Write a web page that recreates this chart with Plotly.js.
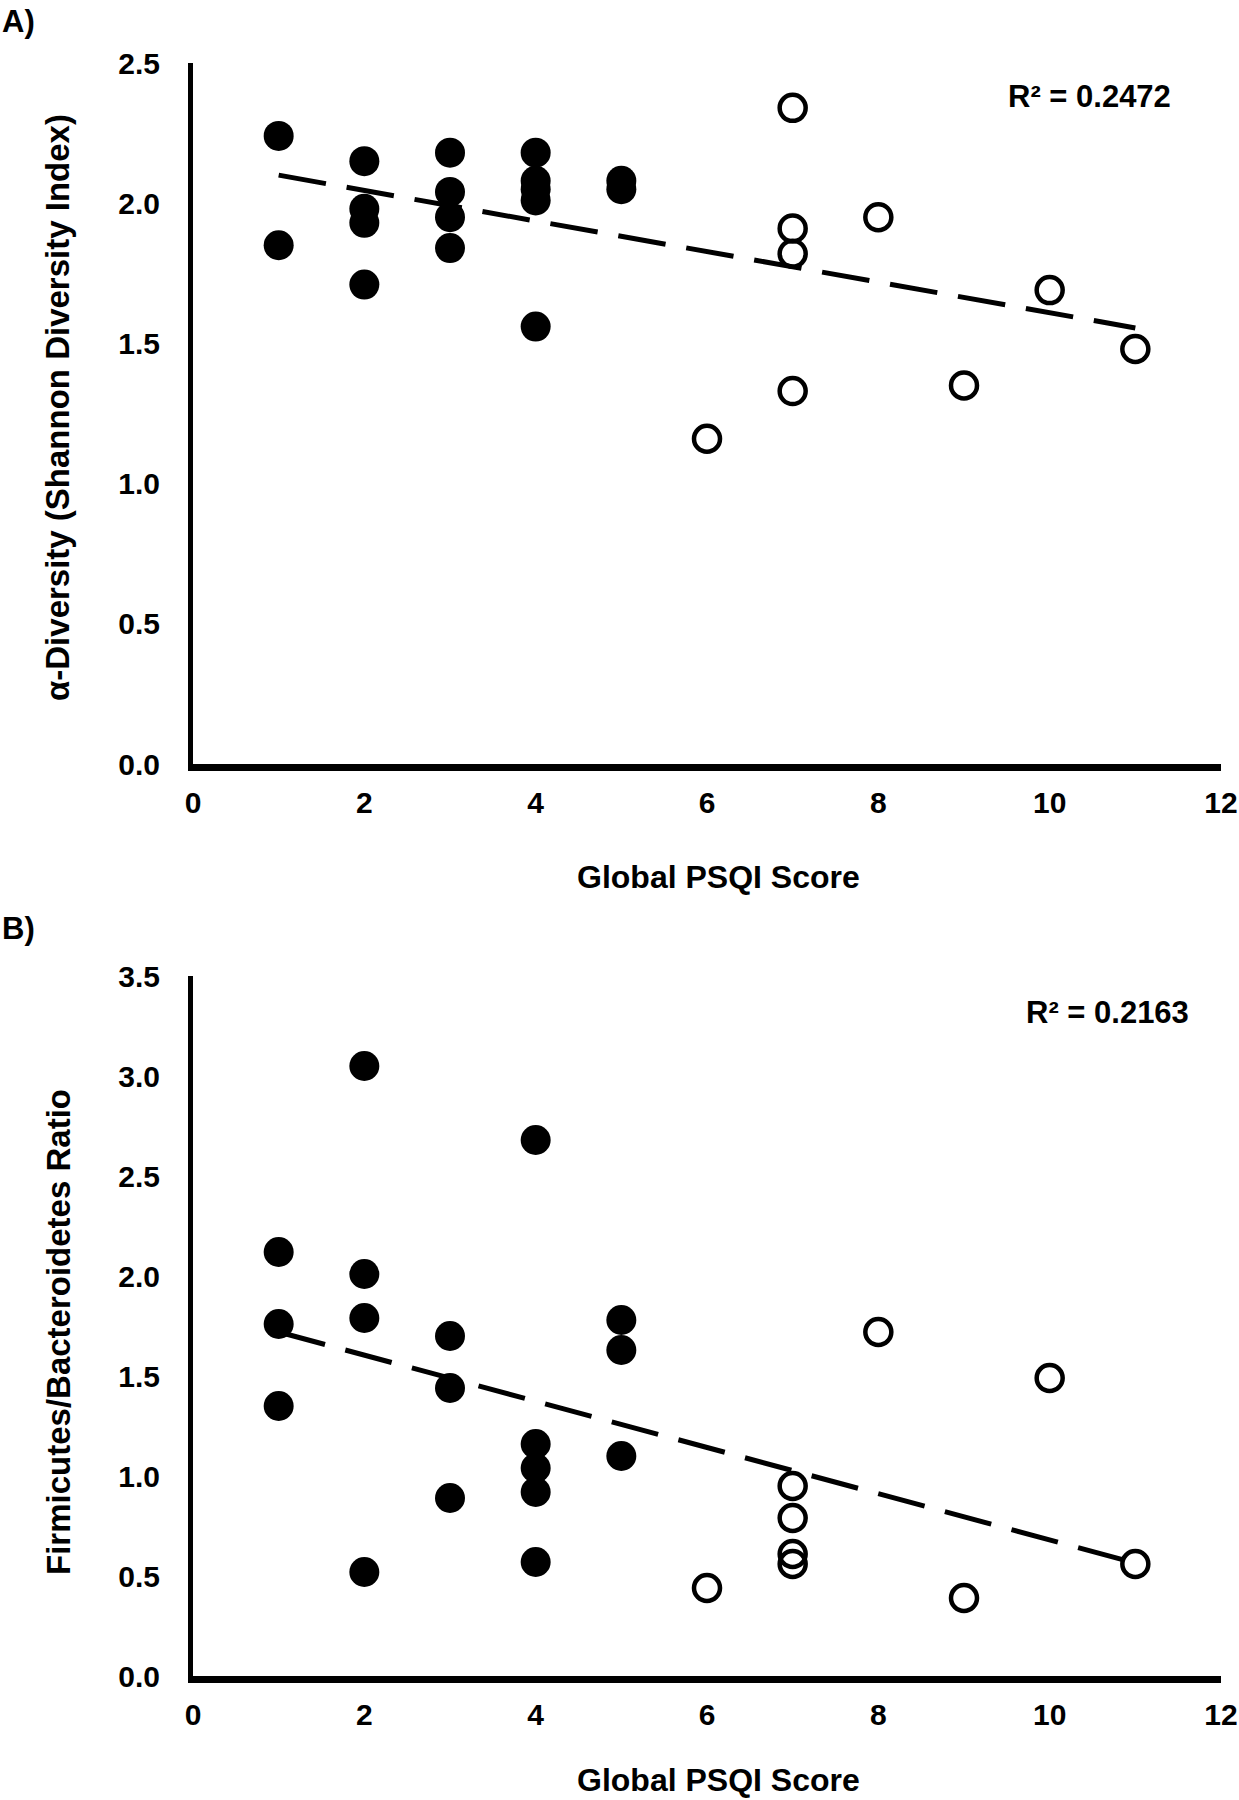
<!DOCTYPE html>
<html>
<head>
<meta charset="utf-8">
<script src="https://cdn.plot.ly/plotly-3.0.1.min.js"></script>
<style>
  html, body { margin: 0; padding: 0; background: #fff; }
  #chart { width: 1239px; height: 1800px; }
</style>
</head>
<body>
<div id="chart"></div>
<script>
// Panel A: Shannon diversity vs global PSQI score
const psqiGoodA = [1, 1, 2, 2, 2, 2, 3, 3, 3, 3, 4, 4, 4, 4, 4, 5, 5];
const shannonGood = [2.24, 1.85, 2.15, 1.98, 1.93, 1.71, 2.18, 2.04, 1.95, 1.84, 2.18, 2.08, 2.05, 2.01, 1.56, 2.08, 2.05];
const psqiPoorA = [6, 7, 7, 7, 7, 8, 9, 10, 11];
const shannonPoor = [1.16, 2.34, 1.91, 1.82, 1.33, 1.95, 1.35, 1.69, 1.48];
const trendAx = [1, 11];
const trendAy = [2.10, 1.555];

// Panel B: Firmicutes/Bacteroidetes ratio vs global PSQI score
const psqiGoodB = [1, 1, 1, 2, 2, 2, 2, 3, 3, 3, 4, 4, 4, 4, 4, 5, 5, 5];
const fbGood = [2.12, 1.76, 1.35, 3.05, 2.01, 1.79, 0.52, 1.70, 1.44, 0.89, 2.68, 1.16, 1.04, 0.92, 0.57, 1.78, 1.63, 1.10];
const psqiPoorB = [6, 7, 7, 7, 7, 8, 9, 10, 11];
const fbPoor = [0.44, 0.95, 0.79, 0.61, 0.56, 1.72, 0.39, 1.49, 0.56];
const trendBx = [1, 11];
const trendBy = [1.72, 0.565];

const xTicks = [0, 2, 4, 6, 8, 10, 12];
const yTicksA = [0, 0.5, 1.0, 1.5, 2.0, 2.5];
const yTicksB = [0, 0.5, 1.0, 1.5, 2.0, 2.5, 3.0, 3.5];

const FONT = "'Liberation Sans', Arial, Helvetica, sans-serif";
const tickFont = {family: FONT, size: 30, color: "#000", weight: "bold"};

function filledTrace(x, y, xa, ya) {
    return {
        x, y, xaxis: xa, yaxis: ya,
        type: "scatter", mode: "markers",
        marker: {symbol: "circle", size: 30, color: "#000"},
        hoverinfo: "skip"
    };
}

function openTrace(x, y, xa, ya) {
    return {
        x, y, xaxis: xa, yaxis: ya,
        type: "scatter", mode: "markers",
        marker: {symbol: "circle-open", size: 26, color: "#000", line: {width: 4.5, color: "#000"}},
        hoverinfo: "skip"
    };
}

function trendTrace(x, y, xa, ya) {
    return {
        x, y, xaxis: xa, yaxis: ya,
        type: "scatter", mode: "lines",
        line: {color: "#000", width: 5, dash: "48px,21px"},
        hoverinfo: "skip"
    };
}

function xAxis(anchor) {
    return {
        anchor,
        domain: [193 / 1239, 1221 / 1239],
        range: [0, 12],
        tickmode: "array",
        tickvals: xTicks,
        ticktext: xTicks.map(String),
        tickfont: tickFont,
        ticks: "",
        ticklabelstandoff: 6,
        showline: true, linewidth: 7, linecolor: "#000",
        showgrid: false, zeroline: false, fixedrange: true
    };
}

function yAxis(anchor, top, bottom, maxVal, ticks) {
    return {
        anchor,
        domain: [1 - bottom / 1800, 1 - top / 1800],
        range: [0, maxVal],
        tickmode: "array",
        tickvals: ticks,
        ticktext: ticks.map(v => v.toFixed(1)),
        tickfont: tickFont,
        ticks: "",
        ticklabelstandoff: 22,
        showline: true, linewidth: 5, linecolor: "#000",
        showgrid: false, zeroline: false, fixedrange: true
    };
}

const data = [
    trendTrace(trendAx, trendAy, "x", "y"),
    filledTrace(psqiGoodA, shannonGood, "x", "y"),
    openTrace(psqiPoorA, shannonPoor, "x", "y"),
    trendTrace(trendBx, trendBy, "x2", "y2"),
    filledTrace(psqiGoodB, fbGood, "x2", "y2"),
    openTrace(psqiPoorB, fbPoor, "x2", "y2")
];

function label(text, x, y, size, extra) {
    return Object.assign({
        text, x, y, xref: "paper", yref: "paper",
        showarrow: false,
        font: {family: FONT, size, color: "#000", weight: "bold"}
    }, extra || {});
}

const layout = {
    width: 1239,
    height: 1800,
    margin: {t: 0, r: 0, b: 0, l: 0},
    paper_bgcolor: "#fff",
    plot_bgcolor: "#fff",
    showlegend: false,
    xaxis: xAxis("y"),
    yaxis: yAxis("x", 63, 764, 2.5, yTicksA),
    xaxis2: xAxis("y2"),
    yaxis2: yAxis("x2", 976, 1676, 3.5, yTicksB),
    annotations: [
        label("A)", 0, 1 - 21 / 1800, 31, {xanchor: "left", yanchor: "middle"}),
        label("B)", 0, 1 - 929 / 1800, 31, {xanchor: "left", yanchor: "middle"}),
        label("Global PSQI Score", 719 / 1239, 1 - 877 / 1800, 32, {xanchor: "center", yanchor: "middle"}),
        label("Global PSQI Score", 719 / 1239, 1 - 1780 / 1800, 32, {xanchor: "center", yanchor: "middle"}),
        label("α-Diversity (Shannon Diversity Index)", 57 / 1239, 1 - 408 / 1800, 33,
            {xanchor: "center", yanchor: "middle", textangle: -90}),
        label("Firmicutes/Bacteroidetes Ratio", 58 / 1239, 1 - 1332 / 1800, 33,
            {xanchor: "center", yanchor: "middle", textangle: -90}),
        {
            text: "R² = 0.2472", x: 10.47, y: 2.382, xref: "x", yref: "y",
            showarrow: false, xanchor: "center", yanchor: "middle",
            font: {family: FONT, size: 31, color: "#000", weight: "bold"}
        },
        {
            text: "R² = 0.2163", x: 10.68, y: 3.32, xref: "x2", yref: "y2",
            showarrow: false, xanchor: "center", yanchor: "middle",
            font: {family: FONT, size: 31, color: "#000", weight: "bold"}
        }
    ]
};

Plotly.newPlot("chart", data, layout, {staticPlot: true, displayModeBar: false});
</script>
</body>
</html>
